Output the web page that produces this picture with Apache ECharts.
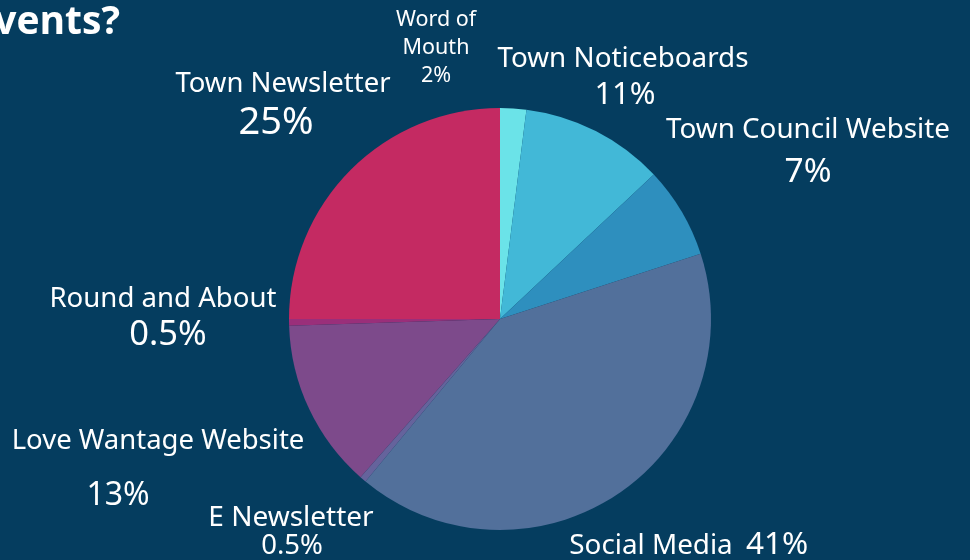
<!DOCTYPE html>
<html>
<head>
<meta charset="utf-8">
<script src="https://cdn.jsdelivr.net/npm/echarts@6/dist/echarts.min.js"></script>
<style>
  html, body { margin: 0; padding: 0; background: #053d5f; }
  #chart { width: 970px; height: 560px; }
</style>
</head>
<body>
<div id="chart"></div>
<script>
// Where people hear about events (share of responses, %)
const categories = [
  'Word of Mouth', 'Town Noticeboards', 'Town Council Website', 'Social Media',
  'E Newsletter', 'Love Wantage Website', 'Round and About', 'Town Newsletter'
];
const shares = [2, 11, 7, 41, 0.5, 13, 0.5, 25];
const sliceColors = [
  '#6be3e8', '#42b8d7', '#2e8fbe', '#52709b',
  '#65639c', '#7d4a8b', '#9a2f7a', '#c42a62'
];

const chart = echarts.init(document.getElementById('chart'));
const font = '"Noto Sans", "Open Sans", sans-serif';

// label placement: [nameX, nameY, nameSize, valueX, valueY, valueSize]
const labelSpots = [
  null,
  [623, 59, 27.8, 625, 95, 31],
  [808, 130, 27.8, 808, 172, 33.5],
  [651, 546, 27.8, 777, 545, 31.5],
  [291, 518, 28, 292, 546, 27.5],
  [158, 441, 27.5, 118, 496, 32],
  [163, 299, 27.6, 168, 335, 34.5],
  [283, 84, 27.5, 276, 123, 38]
];

const graphics = [{
  type: 'text', x: 120, y: 23,
  style: { text: 'events?', fill: '#ffffff', font: 'bold 39px "Open Sans", "Noto Sans", sans-serif',
           textAlign: 'right', textVerticalAlign: 'middle' }
}];

// Word of Mouth gets a stacked three-line label
const wom = categories[0].split(' ');
[[wom[0] + ' ' + wom[1], 20], [wom[2], 48], [shares[0] + '%', 76]].forEach(([t, y]) => {
  graphics.push({ type: 'text', x: 436, y: y,
    style: { text: t, fill: '#ffffff', font: '21.5px ' + font, textAlign: 'center', textVerticalAlign: 'middle' } });
});

labelSpots.forEach((s, i) => {
  if (!s) return;
  graphics.push({ type: 'text', x: s[0], y: s[1],
    style: { text: categories[i], fill: '#ffffff', font: s[2] + 'px ' + font, textAlign: 'center', textVerticalAlign: 'middle' } });
  graphics.push({ type: 'text', x: s[3], y: s[4],
    style: { text: shares[i] + '%', fill: '#ffffff', font: s[5] + 'px ' + font, textAlign: 'center', textVerticalAlign: 'middle' } });
});

chart.setOption({
  backgroundColor: '#053d5f',
  animation: false,
  series: [{
    type: 'pie',
    center: [500, 319],
    radius: 211,
    startAngle: 90,
    clockwise: true,
    minAngle: 0,
    avoidLabelOverlap: false,
    label: { show: false },
    labelLine: { show: false },
    emphasis: { disabled: true },
    itemStyle: { borderWidth: 0 },
    data: categories.map((c, i) => ({ name: c, value: shares[i], itemStyle: { color: sliceColors[i] } }))
  }],
  graphic: graphics
});
</script>
</body>
</html>
